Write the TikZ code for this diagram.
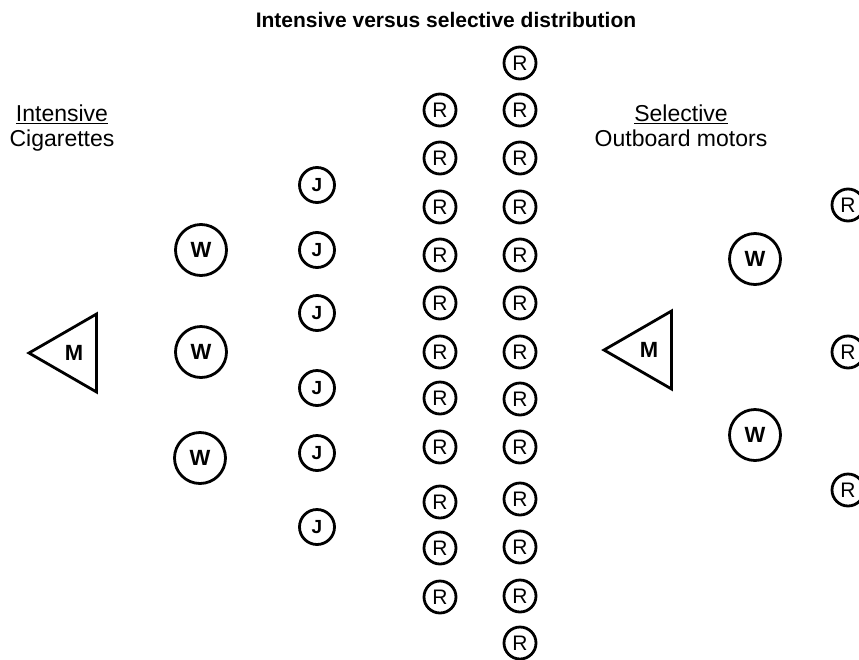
\documentclass[tikz,border=0pt]{standalone}
\usepackage{fontspec}
\setmainfont{Liberation Sans}
\usetikzlibrary{shapes.geometric}

\begin{document}
\begin{tikzpicture}[x=1pt,y=-1pt,
  firm/.style={draw,circle,line width=2.8pt,inner sep=0pt},
  wbox/.style={firm,minimum size=51pt,font=\fontsize{22}{22}\selectfont\bfseries},
  jbox/.style={firm,minimum size=35pt,font=\fontsize{19}{19}\selectfont\bfseries},
  rbox/.style={firm,minimum size=32pt,font=\fontsize{21}{21}\selectfont},
  maker/.style={draw,regular polygon,regular polygon sides=3,shape border rotate=90,
    line width=2.8pt,inner sep=0pt,minimum size=90pt,font=\fontsize{22}{22}\selectfont\bfseries}]
\useasboundingbox (0, 0) rectangle (859, 659);
\clip (0, 0) rectangle (859, 659);

\node (title) at (446, 20) [font=\fontsize{21}{21}\selectfont\bfseries] {Intensive versus selective distribution};

% intensive side
\node (intensive) at (62, 128) [align=center,font=\fontsize{23}{25}\selectfont] {\underline{Intensive}\\Cigarettes};
\node (m1) at (74, 353) [maker] {M};
\node (w1) at (201, 250) [wbox] {W};
\node (w2) at (201, 352) [wbox] {W};
\node (w3) at (200, 458) [wbox] {W};
\foreach \y [count=\i] in {185, 250, 313, 388, 453, 527}
  \node (j\i) at (317, \y) [jbox] {J};
\foreach \y [count=\i] in {110, 158, 207, 255, 303, 352, 398, 447, 502, 548, 597}
  \node (ra\i) at (440, \y) [rbox] {R};
\foreach \y [count=\i] in {63, 110, 158, 207, 255, 303, 352, 399, 447, 499, 547, 596, 643}
  \node (rb\i) at (520, \y) [rbox] {R};

% selective side
\node (selective) at (681, 126) [align=center,font=\fontsize{23}{25}\selectfont] {\underline{Selective}\\Outboard motors};
\node (m2) at (649, 350) [maker] {M};
\node (w4) at (755, 259) [wbox] {W};
\node (w5) at (755, 435) [wbox] {W};
\node (rc1) at (848, 205) [rbox] {R};
\node (rc2) at (848, 352) [rbox] {R};
\node (rc3) at (848, 490) [rbox] {R};
\end{tikzpicture}
\end{document}
